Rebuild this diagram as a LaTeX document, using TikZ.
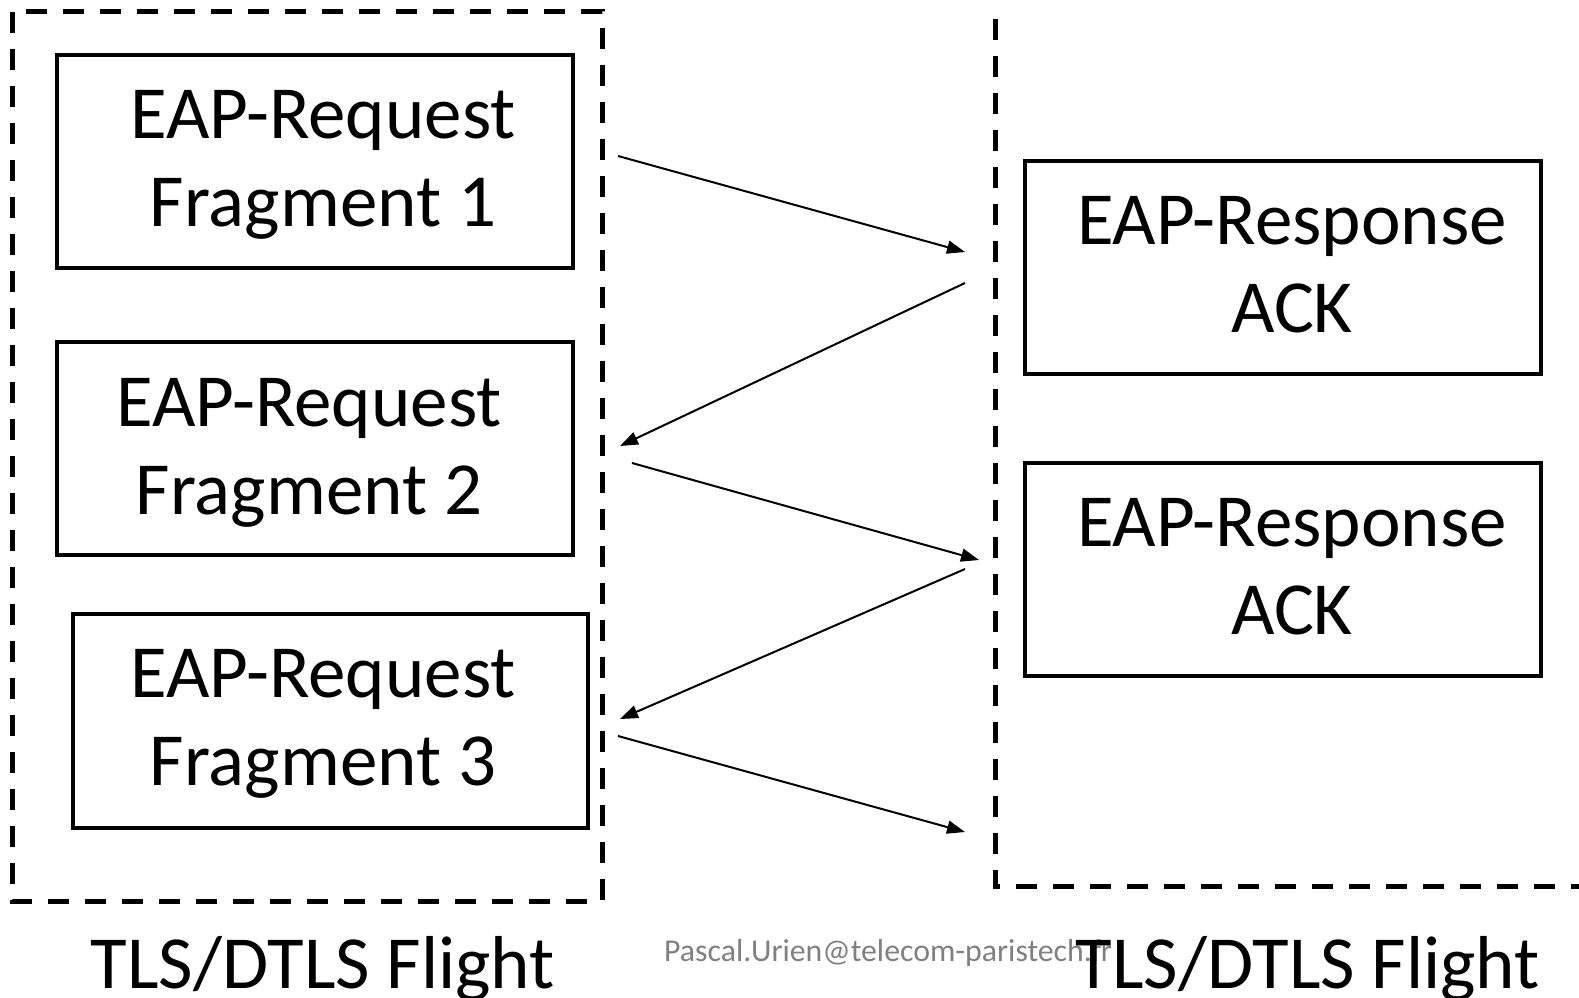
\documentclass[tikz,border=0pt]{standalone}
\usepackage{fontspec}
\setmainfont{Carlito}
\usetikzlibrary{arrows.meta}
\begin{document}
\begin{tikzpicture}[x=1pt,y=-1pt,
  flight/.style={line width=5pt,dash pattern=on 21pt off 16pt},
  frag/.style={draw,line width=4pt,inner sep=0pt},
  big/.style={font=\fontsize{75}{88}\selectfont,inner sep=0pt,anchor=base},
  msg/.style={line width=2pt,-{Triangle[length=18pt,width=13pt]}},
  wmark/.style={font=\fontsize{31.8}{36}\selectfont,text=black!50,inner sep=0pt,anchor=base west}]
\useasboundingbox (0,0) rectangle (1579,998);
% flight frames
\draw[flight] (12,12) rectangle (602,901);
\draw[flight] (995,19) -- (995,886) -- (1579,886);
% boxes
\node[frag,minimum width=516pt,minimum height=213pt] (r1) at (315,161.5) {};
\node[frag,minimum width=516pt,minimum height=213pt] (r2) at (315,448.5) {};
\node[frag,minimum width=515pt,minimum height=214pt] (r3) at (330.5,721) {};
\node[frag,minimum width=516pt,minimum height=213pt] (a1) at (1283,267.5) {};
\node[frag,minimum width=516pt,minimum height=213pt] (a2) at (1283,569.5) {};
% texts
\node[big] (r1a) at (323,138) {EAP-Request};
\node[big] (r1b) at (323,226) {Fragment 1};
\node[big] (r2a) at (309,426) {EAP-Request};
\node[big] (r2b) at (309,514) {Fragment 2};
\node[big] (r3a) at (323,697) {EAP-Request};
\node[big] (r3b) at (323,785) {Fragment 3};
\node[big] (a1a) at (1292,244) {EAP-Response};
\node[big] (a1b) at (1292,332) {ACK};
\node[big] (a2a) at (1292,546) {EAP-Response};
\node[big] (a2b) at (1292,634) {ACK};
% watermark and labels
\node[wmark] (wm) at (664,961) {Pascal.Urien@telecom-paristech.fr};
\node[big] (f1) at (323,988) {TLS/DTLS Flight};
\node[big] (f2) at (1308,988) {TLS/DTLS Flight};
% arrow ends
\coordinate (p1) at (618,156);  \coordinate (q1) at (965,252);
\coordinate (p2) at (965,283);  \coordinate (q2) at (620,446);
\coordinate (p3) at (632,463);  \coordinate (q3) at (979,560);
\coordinate (p4) at (965,569);  \coordinate (q4) at (620,719);
\coordinate (p5) at (618,736);  \coordinate (q5) at (965,832);
\draw[msg] (p1) -- (q1);
\draw[msg] (p2) -- (q2);
\draw[msg] (p3) -- (q3);
\draw[msg] (p4) -- (q4);
\draw[msg] (p5) -- (q5);
\end{tikzpicture}
\end{document}
